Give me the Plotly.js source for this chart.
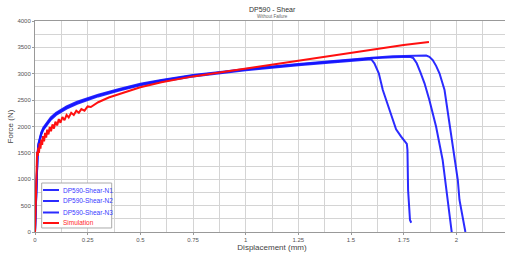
<!DOCTYPE html>
<html><head><meta charset="utf-8">
<script src="https://cdn.plot.ly/plotly-3.0.1.min.js"></script>
<style>html,body{margin:0;padding:0;overflow:hidden;background:#fff}#chart{width:510px;height:253px}</style>
</head><body><div id="chart"></div>
<script>
// Series data (displacement mm, force N)
const n1X = [0,0.004,0.008,0.012,0.016,0.022,0.03,0.04,0.055,0.075,0.1,0.15,0.2,0.25,0.3,0.4,0.5,0.6,0.75,0.9,1.0,1.25,1.4,1.5,1.58,1.596,1.611,1.632,1.651,1.670,1.683,1.698,1.714,1.738,1.765,1.768,1.771,1.780,1.786];
const n1Y = [0,500,1100,1430,1620,1750,1850,1940,2030,2130,2220,2340,2430,2500,2570,2680,2780,2855,2950,3020,3065,3160,3215,3245,3270,3275,3198,3008,2692,2470,2313,2123,1947,1807,1668,1555,796,227,176];
const n2X = [0,0.004,0.008,0.012,0.016,0.022,0.03,0.04,0.055,0.075,0.1,0.15,0.2,0.25,0.3,0.4,0.5,0.6,0.75,0.9,1.0,1.25,1.4,1.5,1.6,1.7,1.78,1.795,1.812,1.830,1.849,1.872,1.904,1.935,1.959,1.970,1.978];
const n2Y = [0,520,1150,1460,1650,1770,1870,1960,2050,2150,2240,2360,2450,2520,2590,2695,2795,2870,2965,3035,3080,3175,3230,3260,3295,3315,3320,3300,3198,3020,2819,2502,1996,1365,607,195,0];
const n3X = [0,0.004,0.008,0.012,0.016,0.022,0.03,0.04,0.055,0.075,0.1,0.15,0.2,0.25,0.3,0.4,0.5,0.6,0.75,0.9,1.0,1.25,1.4,1.5,1.6,1.7,1.8,1.857,1.872,1.888,1.904,1.920,1.944,1.967,1.986,2.007,2.015,2.043];
const n3Y = [0,540,1180,1480,1670,1790,1890,1980,2070,2170,2260,2380,2470,2540,2605,2710,2810,2880,2975,3045,3090,3185,3240,3270,3305,3330,3345,3345,3320,3260,3150,3008,2692,2060,1555,986,607,0];
const simX = [0,0.002,0.004,0.006,0.008,0.010,0.013,0.016,0.019,0.022,0.026,0.030,0.034,0.038,0.043,0.048,0.053,0.058,0.064,0.070,0.076,0.083,0.090,0.097,0.105,0.113,0.121,0.130,0.140,0.150,0.160,0.172,0.184,0.196,0.208,0.22,0.235,0.25,0.265,0.3,0.35,0.4,0.5,0.6,0.75,0.9,1.0,1.25,1.5,1.75,1.87];
const simY = [0,300,700,1100,1400,1520,1440,1600,1500,1680,1580,1750,1650,1820,1720,1880,1790,1940,1850,1990,1910,2040,1960,2090,2020,2140,2070,2180,2120,2220,2170,2260,2220,2300,2260,2330,2300,2380,2370,2460,2550,2620,2745,2840,2950,3040,3100,3245,3400,3545,3600];
const seriesNames = ["DP590-Shear-N1","DP590-Shear-N2","DP590-Shear-N3","Simulation"];
const xTickVals = [0,0.25,0.5,0.75,1,1.25,1.5,1.75,2,2.25];
const xTickText = ["0","0.25","0.5","0.75","1","1.25","1.5","1.75","2","2.25"];

const blue = 'rgba(20,20,255,0.9)';
const legBlue = '#3a3aff';
const red = '#ff1010';
const colors = [blue,blue,blue,red];
const textColors = [legBlue,legBlue,legBlue,'#ff2a2a'];
const xs = [n1X,n2X,n3X,simX], ys = [n1Y,n2Y,n3Y,simY];
const data = xs.map((x,i)=>({x:x,y:ys[i],mode:'lines',type:'scatter',name:seriesNames[i],
  line:{color:colors[i],width:2},hoverinfo:'skip',showlegend:false}));

const fam = 'Liberation Sans, Arial, sans-serif';
const axFont = {family:fam,size:6,color:'#555'};
const gridC = '#d4d4d4';

// custom legend (paper coordinates)
const legY = [0.199,0.147,0.0924,0.0427];
const shapes = [{type:'rect',xref:'paper',yref:'paper',x0:0.0141,x1:0.1618,y0:0.019,y1:0.2322,
  line:{color:'#aaa',width:1},fillcolor:'#fff',layer:'above'}];
const annotations = [
  {text:'DP590 - Shear',xref:'paper',yref:'paper',x:0.5,y:1,yshift:12,xanchor:'center',yanchor:'middle',showarrow:false,
    font:{family:fam,size:7,color:'#333'}},
  {text:'Without Failure',xref:'paper',yref:'paper',x:0.5,y:1,yshift:5,xanchor:'center',yanchor:'middle',showarrow:false,
    font:{family:fam,size:4.5,color:'#666'}}
];
seriesNames.forEach((nm,i)=>{
  shapes.push({type:'line',xref:'paper',yref:'paper',x0:0.0169,x1:0.0506,y0:legY[i],y1:legY[i],
    line:{color:colors[i],width:2},layer:'above'});
  annotations.push({text:nm,xref:'paper',yref:'paper',x:0.0549,y:legY[i],xanchor:'left',yanchor:'middle',
    showarrow:false,font:{family:fam,size:6.5,color:textColors[i]}});
});

const layout = {
  width:510,height:253,
  margin:{l:35,r:1,t:21,b:21},
  paper_bgcolor:'#fff',plot_bgcolor:'#fff',
  showlegend:false,
  xaxis:{range:[0,2.25],tickmode:'array',tickvals:xTickVals,ticktext:xTickText,tickfont:axFont,
    showgrid:true,gridcolor:gridC,gridwidth:1,
    minor:{tickmode:'linear',dtick:0.125,tick0:0,showgrid:true,gridcolor:gridC,gridwidth:1},
    showline:true,linecolor:'#999',linewidth:1,mirror:true,zeroline:false,
    ticks:'outside',ticklen:2,tickcolor:'#999',
    title:{text:'Displacement (mm)',font:{family:fam,size:8,color:'#444'},standoff:2}},
  yaxis:{range:[0,4000],tickmode:'linear',tick0:0,dtick:500,tickfont:axFont,
    showgrid:true,gridcolor:gridC,gridwidth:1,
    minor:{tickmode:'linear',dtick:250,tick0:0,showgrid:true,gridcolor:gridC,gridwidth:1},
    showline:true,linecolor:'#999',linewidth:1,mirror:true,zeroline:false,
    ticks:'outside',ticklen:2,tickcolor:'#999',
    title:{text:'Force (N)',font:{family:fam,size:8,color:'#444'},standoff:2}},
  shapes:shapes,
  annotations:annotations
};
Plotly.newPlot('chart',data,layout,{displayModeBar:false,staticPlot:true});
</script></body></html>
